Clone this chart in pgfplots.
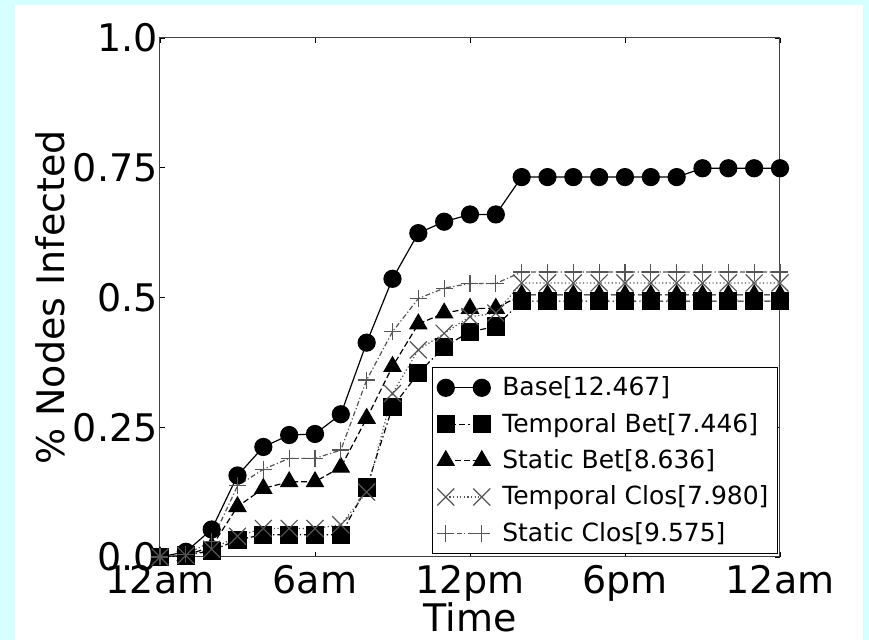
\documentclass[border=0pt]{standalone}
\usepackage{fontspec}
\setmainfont{DejaVu Sans}
\usepackage{pgfplots}
\pgfplotsset{compat=1.18}
\definecolor{bgcyan}{RGB}{214,255,255}
\definecolor{markgray}{RGB}{85,85,85}

\begin{document}
\begin{tikzpicture}[x=0.5pt,y=0.5pt]
\useasboundingbox (-160,-83) rectangle (709,557);
\fill[bgcyan] (-160,-83) rectangle (709,557);
\fill[white] (-145,-83) rectangle (703,552);
\begin{axis}[
  at={(0,0)}, anchor=south west,
  scale only axis, width=310pt, height=259.5pt,
  xmin=0, xmax=24, ymin=0, ymax=1,
  xtick={0,6,12,18,24}, xticklabels={12am,6am,12pm,6pm,12am},
  ytick={0,0.25,0.5,0.75,1}, yticklabels={0.0,0.25,0.5,0.75,1.0},
  tick align=inside, major tick length=2.5pt,
  tick style={black, line width=0.4pt},
  axis line style={line width=0.5pt, black!75},
  ticklabel style={font=\fontsize{19}{22}\selectfont},
  xticklabel style={anchor=north, inner sep=0pt, yshift=-4pt},
  yticklabel style={anchor=east, inner sep=0pt, xshift=-1pt},
  xlabel={Time}, ylabel={\% Nodes Infected},
  label style={font=\fontsize{19}{22}\selectfont},
  xlabel style={at={(axis description cs:0.5,-0.117)}, anchor=center},
  ylabel style={at={(axis description cs:-0.1774,0.5)}, anchor=center},
  legend style={at={(axis description cs:0.9968,0.006)}, anchor=south east,
    draw=black, line width=0.5pt, font=\fontsize{12.5}{15}\selectfont,
    inner sep=2.5pt, row sep=3.2pt,
    /tikz/every odd column/.append style={column sep=4pt}},
  legend cell align=left,
  legend image code/.code={\draw[#1] plot coordinates {(0pt,0pt) (18pt,0pt)};},
]
% Base
\addplot[black, line width=0.6pt, mark=*, mark size=4.25pt, mark options={solid, fill=black}] coordinates {
  (0,0.0) (1,0.010) (2,0.053) (3,0.157) (4,0.212) (5,0.235) (6,0.237) (7,0.275)
  (8,0.413) (9,0.536) (10,0.624) (11,0.646) (12,0.660) (13,0.660) (14,0.732)
  (15,0.732) (16,0.732) (17,0.732) (18,0.732) (19,0.732) (20,0.732) (21,0.749)
  (22,0.749) (23,0.749) (24,0.749)
};
\addlegendentry{Base[12.467]}
% Temporal Bet
\addplot[black, line width=0.6pt, dash pattern=on 3pt off 1.5pt on 0.7pt off 1.5pt,
  mark=square*, mark size=4.25pt, mark options={solid, fill=black}] coordinates {
  (0,0.0) (1,0.003) (2,0.012) (3,0.033) (4,0.043) (5,0.043) (6,0.043) (7,0.043)
  (8,0.134) (9,0.289) (10,0.354) (11,0.405) (12,0.434) (13,0.444) (14,0.493)
  (15,0.493) (16,0.493) (17,0.493) (18,0.493) (19,0.493) (20,0.493) (21,0.493)
  (22,0.493) (23,0.493) (24,0.493)
};
\addlegendentry{Temporal Bet[7.446]}
% Static Bet
\addplot[black, line width=0.6pt, dash pattern=on 3pt off 1.5pt,
  mark=triangle*, mark size=4.8pt, mark options={solid, fill=black}] coordinates {
  (0,0.0) (1,0.003) (2,0.020) (3,0.097) (4,0.132) (5,0.145) (6,0.145) (7,0.173)
  (8,0.267) (9,0.367) (10,0.449) (11,0.470) (12,0.479) (13,0.479) (14,0.505)
  (15,0.505) (16,0.505) (17,0.505) (18,0.505) (19,0.505) (20,0.505) (21,0.505)
  (22,0.505) (23,0.505) (24,0.505)
};
\addlegendentry{Static Bet[8.636]}
% Temporal Clos
\addplot[markgray, line width=0.6pt, dash pattern=on 0.6pt off 1.2pt,
  mark=x, mark size=6pt, mark options={solid}] coordinates {
  (0,0.0) (1,0.003) (2,0.015) (3,0.040) (4,0.055) (5,0.055) (6,0.055) (7,0.062)
  (8,0.125) (9,0.315) (10,0.399) (11,0.431) (12,0.463) (13,0.470) (14,0.528)
  (15,0.528) (16,0.528) (17,0.528) (18,0.528) (19,0.528) (20,0.528) (21,0.528)
  (22,0.528) (23,0.528) (24,0.528)
};
\addlegendentry{Temporal Clos[7.980]}
% Static Clos
\addplot[markgray, line width=0.6pt, dash pattern=on 2.5pt off 1.2pt on 0.6pt off 1.2pt,
  mark=+, mark size=4.25pt, mark options={solid}] coordinates {
  (0,0.0) (1,0.005) (2,0.030) (3,0.137) (4,0.169) (5,0.190) (6,0.190) (7,0.206)
  (8,0.341) (9,0.434) (10,0.498) (11,0.518) (12,0.527) (13,0.527) (14,0.549)
  (15,0.549) (16,0.549) (17,0.549) (18,0.549) (19,0.549) (20,0.549) (21,0.549)
  (22,0.549) (23,0.549) (24,0.549)
};
\addlegendentry{Static Clos[9.575]}
\end{axis}
\end{tikzpicture}
\end{document}
